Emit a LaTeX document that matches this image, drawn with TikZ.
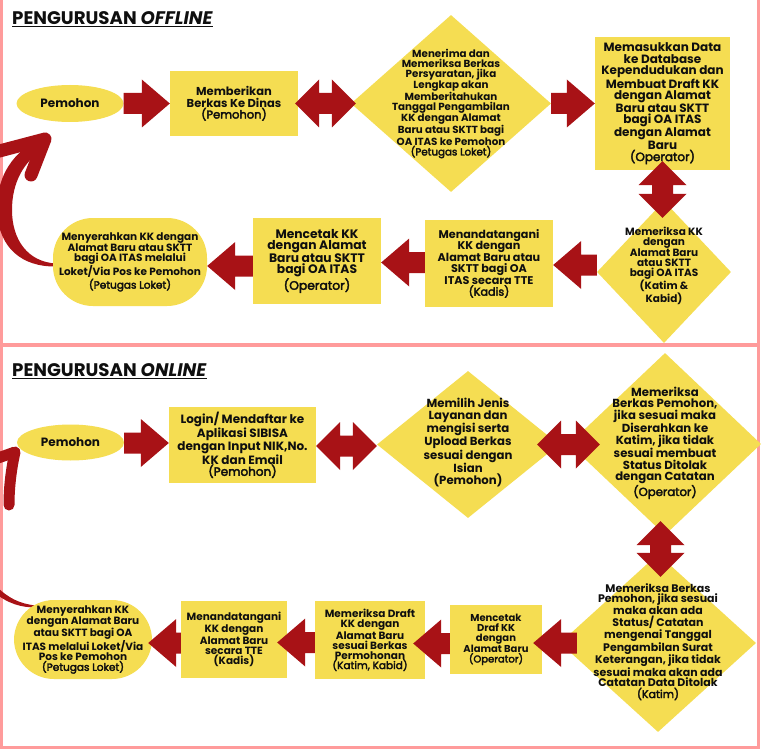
\documentclass[tikz,border=0pt]{standalone}
\usepackage{fontspec}
\setmainfont{Poppins}
\newfontfamily\rolefont[FakeBold=3]{Poppins}
\usetikzlibrary{shapes.geometric,calc}
\definecolor{ky}{RGB}{245,221,82}
\definecolor{kr}{RGB}{168,18,22}
\definecolor{kp}{RGB}{255,155,155}
\definecolor{kt}{RGB}{15,15,15}
\newcommand\role[1]{{\rolefont\mdseries #1}}
\newcommand\fs[2]{\fontsize{#1}{#2}\selectfont\bfseries}
\def\arsw{10.5pt}\def\arhw{24pt}\def\arhl{28pt}\def\ardl{24pt}
% right-pointing block arrow: tail, tip
\newcommand\rarr[2]{\fill[kr] let \p1=(#1), \p2=(#2) in (\x1,\y2+\arsw) -- (\x2-\arhl,\y2+\arsw) -- (\x2-\arhl,\y2+\arhw) -- (\x2,\y2) -- (\x2-\arhl,\y2-\arhw) -- (\x2-\arhl,\y2-\arsw) -- (\x1,\y2-\arsw) -- cycle;}
% left-pointing block arrow: tail, tip
\newcommand\larr[2]{\fill[kr] let \p1=(#1), \p2=(#2) in (\x1,\y2+\arsw) -- (\x2+\arhl,\y2+\arsw) -- (\x2+\arhl,\y2+\arhw) -- (\x2,\y2) -- (\x2+\arhl,\y2-\arhw) -- (\x2+\arhl,\y2-\arsw) -- (\x1,\y2-\arsw) -- cycle;}
% horizontal double arrow: left end, right end
\newcommand\hdarr[2]{\fill[kr] let \p1=(#1), \p2=(#2) in (\x1,\y1) -- (\x1+\ardl,\y1+\arhw) -- (\x1+\ardl,\y1+\arsw) -- (\x2-\ardl,\y1+\arsw) -- (\x2-\ardl,\y1+\arhw) -- (\x2,\y1) -- (\x2-\ardl,\y1-\arhw) -- (\x2-\ardl,\y1-\arsw) -- (\x1+\ardl,\y1-\arsw) -- (\x1+\ardl,\y1-\arhw) -- cycle;}
% vertical double arrow: top end, bottom end
\newcommand\vdarr[2]{\fill[kr] let \p1=(#1), \p2=(#2) in (\x1,\y1) -- (\x1+\arhw,\y1-\ardl) -- (\x1+\arsw,\y1-\ardl) -- (\x1+\arsw,\y2+\ardl) -- (\x1+\arhw,\y2+\ardl) -- (\x1,\y2) -- (\x1-\arhw,\y2+\ardl) -- (\x1-\arsw,\y2+\ardl) -- (\x1-\arsw,\y1-\ardl) -- (\x1-\arhw,\y1-\ardl) -- cycle;}
\tikzset{
  shp/.style={fill=ky, inner sep=0, align=center, text=kt},
  rbox/.style={shp, rectangle},
  ell/.style={shp, ellipse},
  stad/.style={shp, rectangle, rounded corners=40pt},
  dia/.style={shp, diamond},
  dtxt/.style={inner sep=0, align=center, text=kt},
  ttl/.style={inner sep=0, text=kt, font=\fontsize{18.2}{18}\selectfont\bfseries},
}
\begin{document}
\begin{tikzpicture}[x=1pt,y=-1pt]
\useasboundingbox (0,0) rectangle (763,749);
\clip (0,0) rectangle (763,749);
\fill[white] (0,0) rectangle (763,749);
% frame
\draw[kp, line width=3.5pt] (1.5,0) -- (1.5,749);
\draw[kp, line width=3.5pt] (758.5,0) -- (758.5,749);
\draw[kp, line width=3.5pt] (0,344.8) -- (760.2,344.8);
\draw[kp, line width=3.5pt] (0,747.6) -- (760.2,747.6);
% titles
\node[ttl, anchor=base west] (t1) at (12,25) {PENGURUSAN \textit{OFFLINE}};
\draw[kt, line width=1pt] ([yshift=-1.3pt]t1.base west) -- ([yshift=-1.3pt]t1.base east);
\node[ttl, anchor=base west] (t2) at (12,376.8) {PENGURUSAN \textit{ONLINE}};
\draw[kt, line width=1pt] ([yshift=-2pt]t2.base west) -- ([yshift=-2pt]t2.base east);
% curved return arrows
\fill[kr] (56,266.5) .. controls (22,267) and (-1,248) .. (-3,212) .. controls (-4,180) and (10,155) .. (36,141) -- (42,150) .. controls (24,162) and (12,182) .. (12,210) .. controls (12,240) and (28,262) .. (56,263.5) -- cycle;
\draw[kr, line width=13pt, line cap=round, line join=round] (-12,154) -- (45,139) -- (31,175);
\draw[kr, line width=11pt, line cap=round] (15,452) .. controls (11,470) and (9,488) .. (9,505);
\draw[kr, line width=11pt, line join=round] (-30,468) -- (15,452);
\fill[kr] (36,605.5) .. controls (20,604) and (8,598) .. (-4,586) -- (-4,594) .. controls (8,603) and (20,607.5) .. (36,607.5) -- cycle;
% ---------- OFFLINE ----------
\node[ell, minimum width=107, minimum height=37, font=\fs{12}{12}] (p1) at (70,103.5) {Pemohon};
\node[rbox, minimum width=128, minimum height=65, font=\fs{11.5}{11.5}] (b1) at (234,103.5) {Memberikan\\Berkas Ke Dinas\\\role{(Pemohon)}};
\node[dia, minimum width=200, minimum height=177] (d1) at (451,103.5) {};
\node[dtxt, font=\fs{10.3}{10}] (d1t) at (d1.center) {Menerima dan\\Memeriksa Berkas\\Persyaratan, jika\\Lengkap akan\\Memberitahukan\\Tanggal Pengambilan\\KK dengan Alamat\\Baru atau SKTT bagi\\OA ITAS ke Pemohon\\\role{(Petugas Loket)}};
\node[rbox, minimum width=135, minimum height=133, font=\fs{12}{11.4}] (b2) at (662.5,103.5) {Memasukkan Data\\ke Database\\Kependudukan dan\\Membuat Draft KK\\dengan Alamat\\Baru atau SKTT\\bagi OA ITAS\\dengan Alamat\\Baru\\\role{(Operator)}};
\node[dia, minimum width=134, minimum height=142] (d2) at (664,272) {};
\node[dtxt, font=\fs{10.5}{9.8}] (d2t) at (664,266) {Memeriksa KK\\dengan\\Alamat Baru\\atau SKTT\\bagi OA ITAS\\(Katim \&\\Kabid)};
\node[rbox, minimum width=128, minimum height=87, font=\fs{11.2}{11.5}] (b3) at (489,263.5) {Menandatangani\\KK dengan\\Alamat Baru atau\\SKTT bagi OA\\ITAS secara TTE\\\role{(Kadis)}};
\node[rbox, minimum width=128, minimum height=86, font=\fs{12.3}{11.3}] (b4) at (317,261) {Mencetak KK\\dengan Alamat\\Baru atau SKTT\\bagi OA ITAS\\\role{(Operator)}};
\node[stad, minimum width=154, minimum height=88, font=\fs{10.5}{10}] (s1) at (130,262) {Menyerahkan KK dengan\\Alamat Baru atau SKTT\\bagi OA ITAS melalui\\Loket/Via Pos ke Pemohon\\\role{(Petugas Loket)}};
% offline arrows
\rarr{p1.east}{b1.west}
\hdarr{[xshift=-3pt]b1.east}{[xshift=5pt]d1.west}
\rarr{d1.east}{b2.west}
\vdarr{[yshift=9pt]b2.south}{[yshift=-17pt]d2.north}
\larr{d2.west}{[yshift=-1.5pt]b3.east}
\larr{b3.west}{[yshift=-1.5pt]b4.east}
\larr{b4.west}{[yshift=-4pt]s1.east}
% ---------- ONLINE ----------
\node[ell, minimum width=107, minimum height=36, font=\fs{12}{12}] (p2) at (70.5,442.5) {Pemohon};
\node[rbox, minimum width=147, minimum height=76, font=\fs{12}{11.5}] (b5) at (242.5,445) {Login/ Mendaftar ke\\Aplikasi SIBISA\\dengan Input NIK,No.\\KK dan Email\\\role{(Pemohon)}};
\node[dia, minimum width=182, minimum height=147] (d3) at (468,444.5) {};
\node[dtxt, font=\fs{11.7}{11.5}] (d3t) at (468,442.5) {Memilih Jenis\\Layanan dan\\mengisi serta\\Upload Berkas\\sesuai dengan\\Isian\\(Pemohon)};
\node[dia, minimum width=192, minimum height=182] (d4) at (665,444) {};
\node[dtxt, font=\fs{11.7}{11.5}] (d4t) at (665,443) {Memeriksa\\Berkas Pemohon,\\jika sesuai maka\\Diserahkan ke\\Katim, jika tidak\\sesuai membuat\\Status Ditolak\\dengan Catatan\\\role{(Operator)}};
\node[dia, minimum width=196, minimum height=178] (d5) at (658,643) {};
\node[dtxt, font=\fs{11}{10}] (d5t) at (658,642) {Memeriksa Berkas\\Pemohon, jika sesuai\\maka akan ada\\Status/ Catatan\\mengenai Tanggal\\Pengambilan Surat\\Keterangan, jika tidak\\sesuai maka akan ada\\Catatan Data Ditolak\\\role{(Katim)}};
\node[rbox, minimum width=92, minimum height=69, font=\fs{10}{10}] (b6) at (496,639.5) {Mencetak\\Draf KK\\dengan\\Alamat Baru\\\role{(Operator)}};
\node[rbox, minimum width=110, minimum height=78, font=\fs{10.5}{10}] (b7) at (370,640) {Memeriksa Draft\\KK dengan\\Alamat Baru\\sesuai Berkas\\Permohonan\\\role{(Katim, Kabid)}};
\node[rbox, minimum width=106, minimum height=77, font=\fs{10.5}{10}] (b8) at (234,639.5) {Menandatangani\\KK dengan\\Alamat Baru\\secara TTE\\(Kadis)};
\node[stad, minimum width=138, minimum height=79, font=\fs{10.5}{10}] (s2) at (83,639.5) {Menyerahkan KK\\dengan Alamat Baru\\atau SKTT bagi OA\\ITAS melalui Loket/Via\\Pos ke Pemohon\\\role{(Petugas Loket)}};
% online arrows
\rarr{p2.east}{[yshift=2pt]b5.west}
\hdarr{[yshift=-1pt]b5.east}{d3.west}
\hdarr{[xshift=-22pt]d3.east}{[xshift=31pt]d4.west}
\vdarr{[xshift=-4.5pt,yshift=14pt]d4.south}{[xshift=2.5pt,yshift=-23pt]d5.north}
\larr{[xshift=17pt]d5.west}{[xshift=-9pt,yshift=-3.5pt]b6.east}
\larr{b6.west}{[xshift=-12pt,yshift=-3.5pt]b7.east}
\larr{b7.west}{[xshift=-10pt,yshift=-3pt]b8.east}
\larr{b8.west}{[xshift=-4pt,yshift=-3.5pt]s2.east}
\end{tikzpicture}
\end{document}
